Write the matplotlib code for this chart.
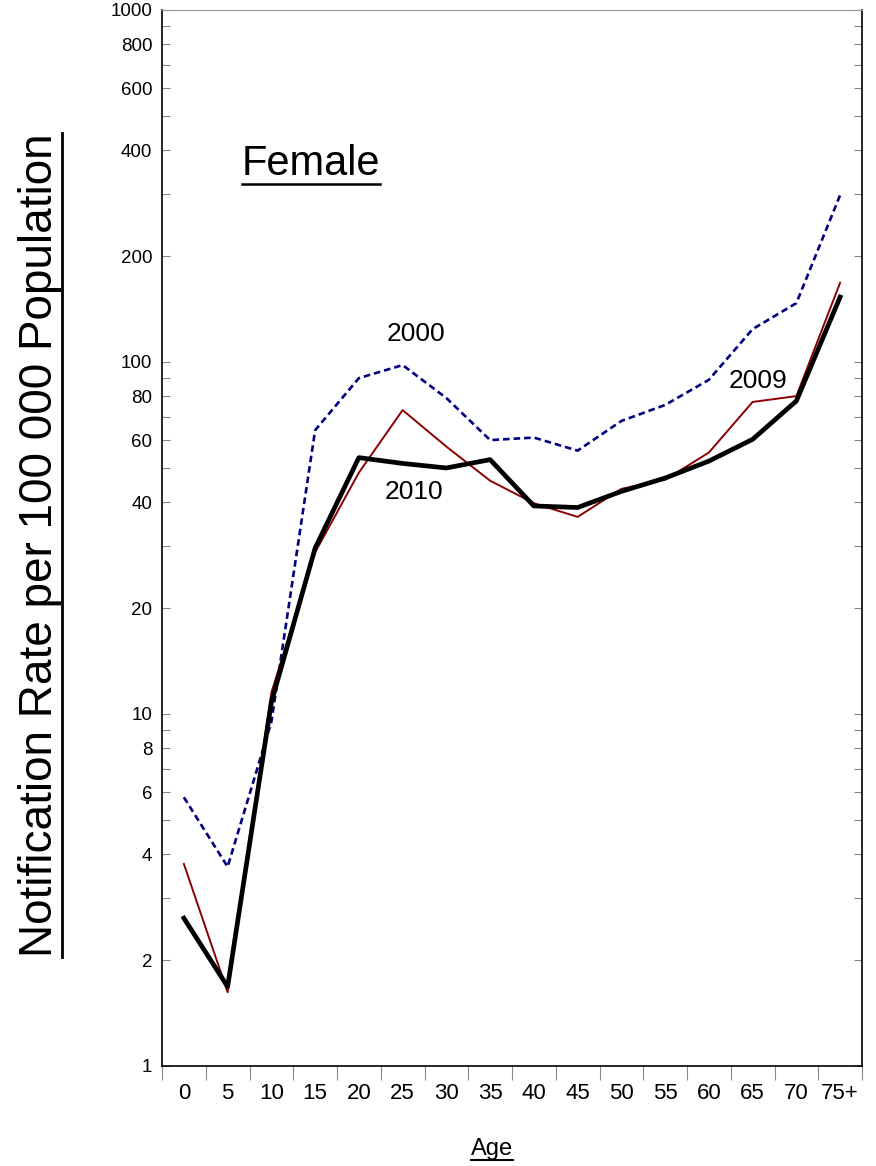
import numpy as np
import matplotlib.pyplot as plt
from matplotlib.lines import Line2D
from matplotlib.ticker import FixedLocator, NullFormatter

plt.rcParams['font.family'] = ['Liberation Sans', 'DejaVu Sans']

# data (rates per 100 000, females)
ages = ['0', '5', '10', '15', '20', '25', '30', '35', '40', '45',
        '50', '55', '60', '65', '70', '75+']
rate_2000 = [5.8, 3.68, 9.5, 64, 90, 98, 79, 60, 61, 56,
             68, 75.5, 89, 124, 147, 298]
rate_2009 = [3.75, 1.62, 11.5, 28.8, 48.5, 73, 57.5, 46, 39.7, 36.3,
             43.6, 46.3, 55.3, 77, 80, 168]
rate_2010 = [2.63, 1.68, 10.8, 29.6, 53.5, 51.5, 50, 52.8, 39, 38.6,
             42.9, 46.8, 52.3, 60.3, 77.5, 153]

major_y = [1, 2, 4, 6, 8, 10, 20, 40, 60, 80, 100, 200, 400, 600, 800, 1000]

fig = plt.figure(figsize=(8.76, 11.66), dpi=100)
ax = fig.add_axes([162/876, 1-1066/1166, 700/876, 1056/1166])

x = np.arange(len(ages))
ax.plot(x, rate_2000, color='#000080', lw=1.9, ls=(0, (2.5, 1.5)))
ax.plot(x, rate_2009, color='#8b0000', lw=1.4)
ax.plot(x, rate_2010, color='black', lw=3.4)

ax.set_yscale('log')
ax.set_ylim(1, 1000)
ax.set_xlim(-0.5, len(ages) - 0.5)

# y axis ticks
ax.yaxis.set_major_locator(FixedLocator(major_y))
ax.yaxis.set_major_formatter(plt.FixedFormatter([str(v) for v in major_y]))
minors = [m * 10**d for d in range(3) for m in range(1, 10)]
ax.yaxis.set_minor_locator(FixedLocator(minors))
ax.yaxis.set_minor_formatter(NullFormatter())
ax.tick_params(axis='y', which='both', direction='in', left=True, right=True,
               length=6, width=0.8, color='#888888', labelsize=13.5, pad=7)

# x axis ticks: labels centred, marks at category boundaries
ax.set_xticks(x)
ax.set_xticklabels(ages)
ax.set_xticks(np.arange(-0.5, len(ages)), minor=True)
ax.tick_params(axis='x', which='major', length=0, labelsize=16, pad=12)
ax.tick_params(axis='x', which='minor', direction='out', length=10,
               width=0.8, color='#888888')

ax.spines['top'].set_color('#999999')
ax.spines['left'].set_linewidth(1.2)
ax.spines['right'].set_linewidth(1.2)
ax.spines['bottom'].set_linewidth(1.2)

# in-plot labels
ax.text(2.9, 365, 'Female', fontsize=30, ha='center', va='center')
ax.text(5.3, 120, '2000', fontsize=19, ha='center', va='center')
ax.text(5.26, 42.7, '2010', fontsize=19, ha='center', va='center')
ax.text(13.12, 88.3, '2009', fontsize=19, ha='center', va='center')

ylab = fig.text(40/876, 1-545/1166, 'Notification Rate per 100 000 Population',
                fontsize=33, rotation=90, ha='center', va='center')
xlab = fig.text(492/876, 1-1149/1166, 'Age', fontsize=17, ha='center',
                va='center')

fig.canvas.draw()
inv = fig.transFigure.inverted()


def underline(t, lw, vertical=False):
    bb = t.get_window_extent()
    if vertical:
        p0 = inv.transform((bb.x1, bb.y0))
        p1 = inv.transform((bb.x1, bb.y1))
    else:
        p0 = inv.transform((bb.x0, bb.y0))
        p1 = inv.transform((bb.x1, bb.y0))
    fig.add_artist(Line2D([p0[0], p1[0]], [p0[1], p1[1]], color='black',
                          lw=lw, transform=fig.transFigure))


underline(ax.texts[0], 1.8)
underline(ylab, 2.0, vertical=True)
underline(xlab, 1.5)

fig.savefig('out.png', dpi=100)
